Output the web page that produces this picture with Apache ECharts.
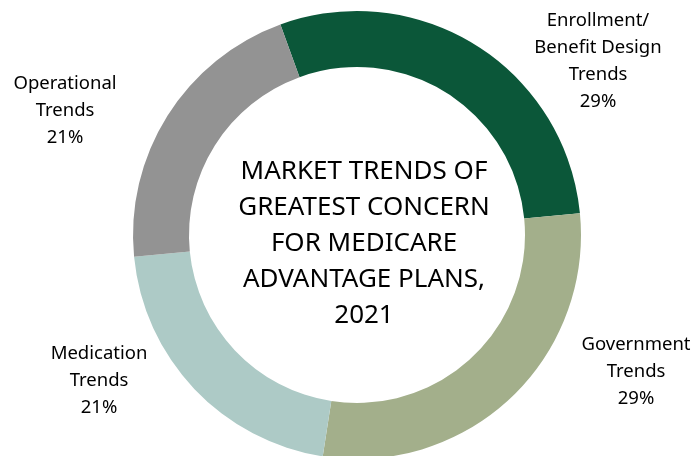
<!DOCTYPE html>
<html>
<head>
<meta charset="utf-8">
<script src="https://cdn.jsdelivr.net/npm/echarts@6/dist/echarts.min.js"></script>
<style>
  html, body { margin: 0; padding: 0; background: #fff; }
  #container { width: 699px; height: 456px; }
</style>
</head>
<body>
<div id="container"></div>
<script>
var categories = ['Enrollment/\nBenefit Design\nTrends', 'Government\nTrends', 'Medication\nTrends', 'Operational\nTrends'];
var shares = [29, 29, 21, 21];
var sliceColors = ['#0b5739', '#a3af8b', '#adcac6', '#939393'];
var centerTitle = 'MARKET TRENDS OF\nGREATEST CONCERN\nFOR MEDICARE\nADVANTAGE PLANS,\n2021';

// where each label block sits (center of the text block)
var labelSpots = [[598, 61], [636, 372], [99, 381], [65, 111]];

var FONT = '"Noto Sans", sans-serif';

function onLoad()
{
    var dom = document.getElementById('container');
    var myChart = echarts.init(dom, null, { renderer: 'canvas' });

    var data = [];
    for (var i = 0; i < categories.length; i++) {
        data.push({ name: categories[i], value: shares[i], itemStyle: { color: sliceColors[i] } });
    }

    var option = {
        animation: false,
        title: {
            text: centerTitle,
            left: 359,
            top: 239,
            textAlign: 'center',
            textVerticalAlign: 'middle',
            textStyle: {
                fontFamily: FONT,
                fontWeight: 'normal',
                fontSize: 26,
                lineHeight: 36,
                color: '#000'
            }
        },
        series: [{
            type: 'pie',
            center: [357, 235],
            radius: [168, 224],
            startAngle: 110,
            clockwise: true,
            data: data,
            itemStyle: { borderWidth: 0 },
            label: {
                show: true,
                position: 'outside',
                formatter: '{b}\n{c}%',
                fontFamily: FONT,
                fontSize: 18.5,
                lineHeight: 27,
                color: '#000',
                align: 'center'
            },
            labelLine: { show: false },
            labelLayout: function (params) {
                var p = labelSpots[params.dataIndex];
                return { x: p[0], y: p[1], align: 'center', verticalAlign: 'middle' };
            },
            emphasis: { disabled: true }
        }]
    };
    myChart.setOption(option, true);
}

onLoad();
</script>
</body>
</html>
